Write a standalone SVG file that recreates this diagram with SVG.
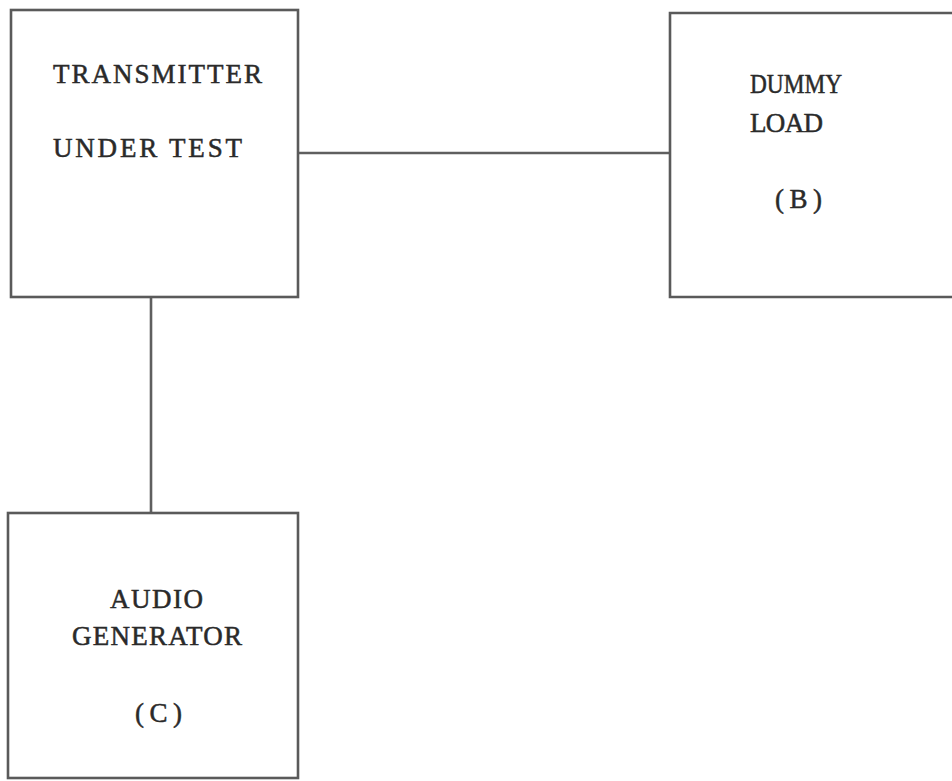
<svg xmlns="http://www.w3.org/2000/svg" width="952" height="781" viewBox="0 0 952 781">
<style>
.box{fill:none;stroke:#5a5a5a;stroke-width:2.6}
.wire{fill:none;stroke:#5f5f5f;stroke-width:2.6}
.t{font-family:"Liberation Serif","DejaVu Serif",serif;font-size:27px;fill:#2a2a2a;stroke:#2a2a2a;stroke-width:0.5}
</style>
<rect width="952" height="781" fill="#ffffff"/>
<g id="connectors">
<line class="wire" x1="298" y1="153" x2="670" y2="153"/>
<line class="wire" x1="151" y1="297" x2="151" y2="513"/>
</g>
<g id="transmitter">
<rect class="box" x="11" y="10" width="287" height="287"/>
<text class="t" x="53" y="83" textLength="209" lengthAdjust="spacing">TRANSMITTER</text>
<text class="t" x="53" y="157" textLength="189" lengthAdjust="spacing">UNDER TEST</text>
</g>
<g id="dummy-load">
<path class="box" d="M955 13 L670 13 L670 297 L955 297"/>
<text class="t" x="750" y="93" textLength="92" lengthAdjust="spacingAndGlyphs">DUMMY</text>
<text class="t" x="750" y="132" textLength="73" lengthAdjust="spacing">LOAD</text>
<text class="t" x="775" y="208" textLength="47" lengthAdjust="spacing">(B)</text>
</g>
<g id="audio-generator">
<rect class="box" x="8" y="513" width="290" height="265"/>
<text class="t" x="110" y="608" textLength="93" lengthAdjust="spacing">AUDIO</text>
<text class="t" x="72" y="645" textLength="170" lengthAdjust="spacing">GENERATOR</text>
<text class="t" x="135" y="722" textLength="47" lengthAdjust="spacing">(C)</text>
</g>
</svg>
